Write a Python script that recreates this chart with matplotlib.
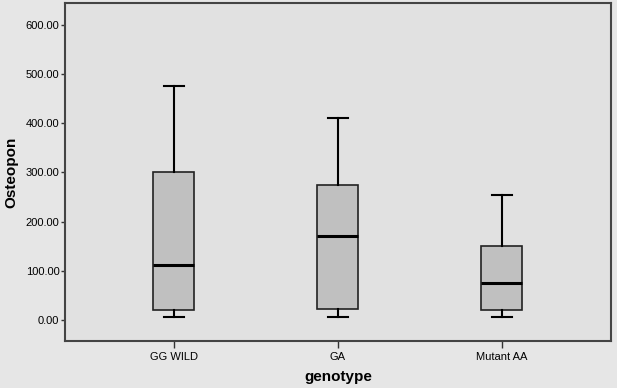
import matplotlib
matplotlib.use("Agg")
import matplotlib.pyplot as plt

plt.rcParams['font.family'] = ['Liberation Sans', 'DejaVu Sans']

# box statistics (Osteopon by genotype)
genotypes = ["GG WILD", "GA", "Mutant AA"]
whisker_low = [5.4, 5.4, 5.4]
q1 = [20.3, 23.0, 20.3]
medians = [112.4, 170.0, 75.8]
q3 = [300.0, 275.0, 150.4]
whisker_high = [476.0, 411.0, 254.7]
yticks = [0, 100, 200, 300, 400, 500, 600]

stats = []
for i in range(len(genotypes)):
    stats.append({"label": genotypes[i], "whislo": whisker_low[i], "q1": q1[i],
                  "med": medians[i], "q3": q3[i], "whishi": whisker_high[i],
                  "fliers": []})

fig = plt.figure(figsize=(6.17, 3.88), dpi=100)
fig.patch.set_facecolor("#e6e6e6")
ax = fig.add_axes([0.1053, 0.1211, 0.8847, 0.8712])
ax.set_facecolor("#e1e1e1")

ax.bxp(stats, positions=[1, 2, 3], widths=0.25, patch_artist=True,
       boxprops=dict(facecolor="#c0c0c0", edgecolor="#222222", linewidth=1.2),
       medianprops=dict(color="black", linewidth=2.2),
       whiskerprops=dict(color="black", linewidth=1.5),
       capprops=dict(color="black", linewidth=1.5),
       capwidths=0.125)

ax.set_xlim(0.335, 3.665)
ax.set_ylim(-42.7, 644)
ax.set_yticks(yticks)
ax.set_yticklabels(["%.2f" % v for v in yticks], fontsize=8)
ax.set_xticks([1, 2, 3])
ax.set_xticklabels(genotypes, fontsize=8)
ax.tick_params(axis="y", length=3, width=1, color="#333333", pad=1)
ax.tick_params(axis="x", length=5, width=1, color="#333333", pad=3)

for s in ax.spines.values():
    s.set_color("#444444")
    s.set_linewidth(1.5)

ax.set_xlabel("genotype", fontsize=11, fontweight="bold", labelpad=6)
ax.set_ylabel("Osteopon", fontsize=11, fontweight="bold", labelpad=5)

fig.savefig("out.png", dpi=100, facecolor=fig.get_facecolor())
